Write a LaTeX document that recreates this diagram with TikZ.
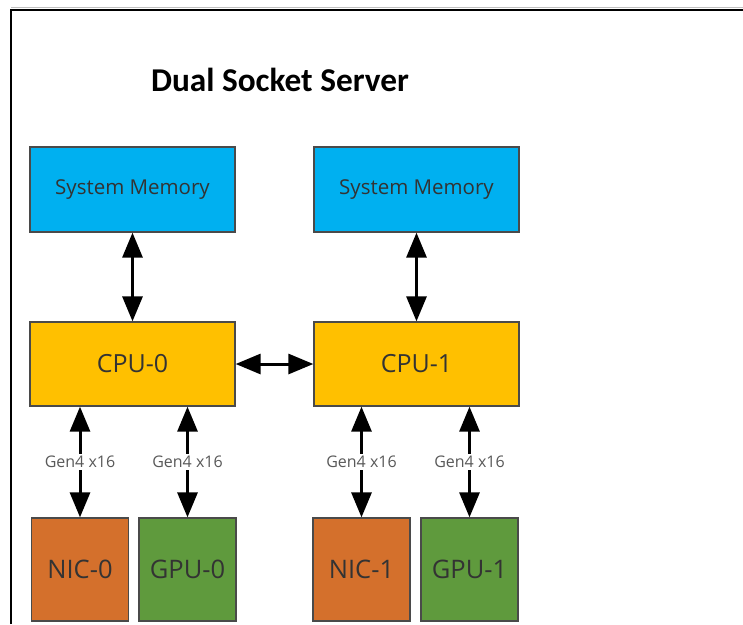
\documentclass[tikz,border=0pt]{standalone}
\usepackage{fontspec}
\setmainfont{Open Sans}
\newfontfamily\titlefont{Carlito}
\usetikzlibrary{arrows.meta}
\definecolor{memblue}{HTML}{00B0F0}
\definecolor{cpuyellow}{HTML}{FFC000}
\definecolor{nicorange}{HTML}{D4702C}
\definecolor{gpugreen}{HTML}{5F9A3D}
\definecolor{boxedge}{HTML}{4A4A4A}
\definecolor{labelgrey}{HTML}{595959}
\tikzset{
  box/.style={draw=boxedge, line width=1.3pt, inner sep=0pt, text=black!80},
  membox/.style={box, fill=memblue, minimum width=205pt, minimum height=85pt, font=\fontsize{20.5}{24}\selectfont},
  cpubox/.style={box, fill=cpuyellow, minimum width=205pt, minimum height=84pt, font=\fontsize{25}{30}\selectfont},
  nicbox/.style={box, fill=nicorange, minimum width=97pt, minimum height=103pt, font=\fontsize{25.5}{30}\selectfont},
  gpubox/.style={box, fill=gpugreen, minimum width=97pt, minimum height=103pt, font=\fontsize{25.5}{30}\selectfont},
  link/.style={line width=3pt, {Triangle[length=25pt,width=20pt]}-{Triangle[length=25pt,width=20pt]}},
  genlabel/.style={fill=white, text=labelgrey, inner sep=2pt, font=\fontsize{16}{19}\selectfont}
}
\begin{document}
\begin{tikzpicture}[x=1pt,y=-1pt]
\useasboundingbox (0,0) rectangle (743,624);
\fill[white] (0,0) rectangle (743,624);
% frame
\draw[black!25, line width=1pt] (11,7) -- (743,7);
\draw[black, line width=1.3pt] (11,624) -- (11,10) -- (743,10);
% title
\node (title) at (280,80) {\titlefont\bfseries\fontsize{33.3}{40}\selectfont Dual Socket Server};
% boxes
\node[membox] (mem0) at (132.5,189.5) {System Memory};
\node[membox] (mem1) at (416.5,189.5) {System Memory};
\node[cpubox] (cpu0) at (132.5,364) {CPU-0};
\node[cpubox] (cpu1) at (416.5,364) {CPU-1};
\node[nicbox] (nic0) at (80,569.5) {NIC-0};
\node[gpubox] (gpu0) at (187.5,569.5) {GPU-0};
\node[nicbox] (nic1) at (361.5,569.5) {NIC-1};
\node[gpubox] (gpu1) at (469.5,569.5) {GPU-1};
% connectors
\draw[link] (mem0) -- (cpu0);
\draw[link] (mem1) -- (cpu1);
\draw[link] (cpu0) -- (cpu1);
\draw[link] (cpu0.south -| nic0.north) -- node[genlabel] {Gen4 x16} (nic0.north);
\draw[link] (cpu0.south -| gpu0.north) -- node[genlabel] {Gen4 x16} (gpu0.north);
\draw[link] (cpu1.south -| nic1.north) -- node[genlabel] {Gen4 x16} (nic1.north);
\draw[link] (cpu1.south -| gpu1.north) -- node[genlabel] {Gen4 x16} (gpu1.north);
\end{tikzpicture}
\end{document}
